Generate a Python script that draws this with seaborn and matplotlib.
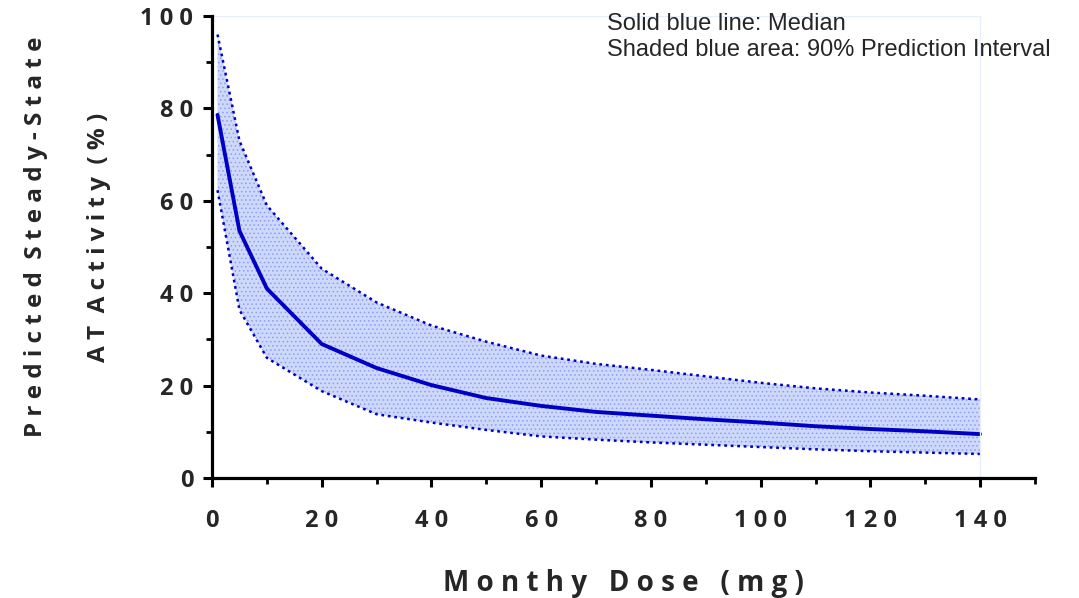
import matplotlib
matplotlib.use("Agg")
import matplotlib.pyplot as plt
import seaborn as sns
import pandas as pd
from matplotlib.ticker import MultipleLocator

# Monthly dose (mg) and predicted steady-state AT activity (%)
dose = [1, 5, 10, 20, 30, 40, 50, 60, 70, 80, 90, 100, 110, 120, 130, 140]
median = [78.6, 53.5, 41.0, 29.0, 23.8, 20.1, 17.3, 15.6, 14.3, 13.5, 12.7, 12.0, 11.2, 10.6, 10.1, 9.5]
upper = [96.0, 73.0, 59.0, 45.3, 38.0, 33.0, 29.5, 26.5, 24.7, 23.4, 22.0, 20.6, 19.4, 18.5, 17.8, 17.0]
lower = [62.3, 36.4, 26.0, 18.8, 13.8, 12.0, 10.4, 9.0, 8.3, 7.7, 7.2, 6.7, 6.2, 5.8, 5.5, 5.2]

xticks = [0, 20, 40, 60, 80, 100, 120, 140]
yticks = [0, 20, 40, 60, 80, 100]

df = pd.DataFrame({"dose": dose, "median": median, "upper": upper, "lower": lower})

sns.set_theme(style="ticks")
FAMILY = ["Open Sans", "DejaVu Sans"]
plt.rcParams["font.family"] = FAMILY
plt.rcParams["hatch.linewidth"] = 0.6

BLUE = "#0000c4"


def tracked(text, gap=" ", word_gap="   "):
    """Spread the letters of each word and widen the gaps between words."""
    return word_gap.join(gap.join(w) for w in text.split(" "))


fig = plt.figure(figsize=(10.79, 5.98), dpi=100)
ax = fig.add_axes([0.1965, 0.2007, 0.7627, 0.7725])

# 90% prediction interval
ax.fill_between(df["dose"], df["lower"], df["upper"], facecolor="#cdd8fb",
                edgecolor="#8e9ef5", hatch="....", linewidth=0)
sns.lineplot(data=df, x="dose", y="upper", ax=ax, color=BLUE, lw=1.8,
             linestyle=(0, (1.1, 1.5)))
sns.lineplot(data=df, x="dose", y="lower", ax=ax, color=BLUE, lw=1.8,
             linestyle=(0, (1.1, 1.5)))
# Median
sns.lineplot(data=df, x="dose", y="median", ax=ax, color=BLUE, lw=2.8)

# faint plot frame
ax.axhline(100, xmin=0, xmax=140 / 150, color="#e8eefc", lw=1.0)
ax.axvline(140, ymin=0, ymax=1, color="#e8eefc", lw=1.0)

ax.set_xlim(0, 150)
ax.set_ylim(0, 100)
ax.set_xticks(xticks)
ax.set_yticks(yticks)
ax.set_xticklabels([" ".join(str(t)) for t in xticks])
ax.set_yticklabels([" ".join(str(t)) for t in yticks])
ax.xaxis.set_minor_locator(MultipleLocator(10))
ax.yaxis.set_minor_locator(MultipleLocator(10))

for sp in ("top", "right"):
    ax.spines[sp].set_visible(False)
for sp in ("left", "bottom"):
    ax.spines[sp].set_linewidth(2.3)
    ax.spines[sp].set_color("black")

ax.tick_params(axis="both", which="major", direction="out", length=6.5, width=2.2,
               color="black", labelsize=17)
ax.tick_params(axis="both", which="minor", direction="out", length=4, width=2.0,
               color="black")
ax.tick_params(axis="x", which="major", pad=16)
ax.tick_params(axis="y", which="major", pad=7)
for lab in ax.get_xticklabels() + ax.get_yticklabels():
    lab.set_fontweight("bold")

ax.set_xlabel("")
ax.set_ylabel("")

ax_mid = 0.1965 + 0.7627 / 2
fig.text(ax_mid, 1 - 591 / 598, tracked("Monthy Dose (mg)"),
         ha="center", va="baseline", fontsize=20, fontweight="bold", family=FAMILY)
fig.text(42 / 1079, 1 - 237 / 598, tracked("Predicted Steady-State", word_gap="  "),
         rotation=90, rotation_mode="anchor", ha="center", va="baseline",
         fontsize=17.5, fontweight="bold", family=FAMILY)
fig.text(105 / 1079, 1 - 237 / 598, tracked("AT Activity (%)", word_gap="  "),
         rotation=90, rotation_mode="anchor", ha="center", va="baseline",
         fontsize=17.5, fontweight="bold", family=FAMILY)

fig.text(607 / 1079, 1 - 13 / 598,
         "Solid blue line: Median\nShaded blue area: 90% Prediction Interval",
         ha="left", va="top", fontsize=17, family="Liberation Sans",
         linespacing=1.22)

fig.savefig("out.png", dpi=100)
